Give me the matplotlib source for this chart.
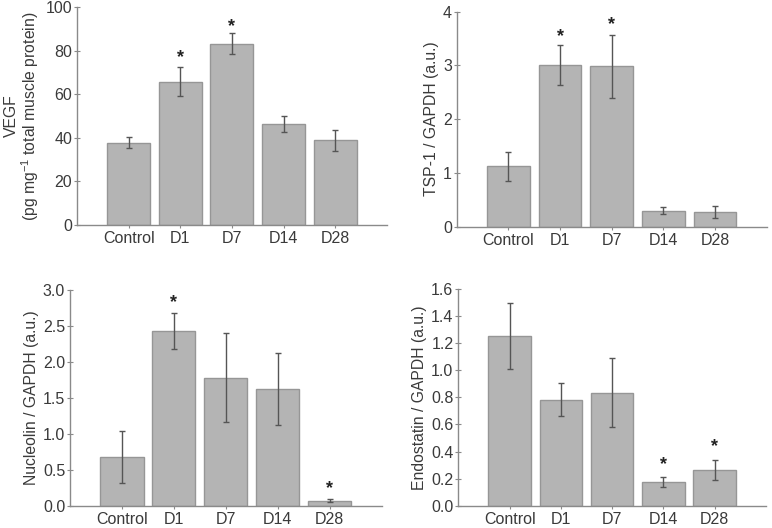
import numpy as np
import matplotlib
matplotlib.use('Agg')
import matplotlib.pyplot as plt

matplotlib.rcParams['font.family'] = ['Liberation Sans', 'DejaVu Sans']
matplotlib.rcParams['font.size'] = 11

groups = ['Control', 'D1', 'D7', 'D14', 'D28']

# VEGF (pg/mg total muscle protein)
vegf = [37.8, 65.7, 83.2, 46.2, 38.9]
vegf_err = [2.5, 6.7, 4.7, 3.7, 4.8]
vegf_star = [None, 77, 91, None, None]

# TSP-1 / GAPDH
tsp = [1.12, 3.0, 2.98, 0.30, 0.27]
tsp_err = [0.27, 0.37, 0.58, 0.06, 0.11]
tsp_star = [None, 3.53, 3.75, None, None]

# Nucleolin / GAPDH
nuc = [0.68, 2.43, 1.78, 1.62, 0.07]
nuc_err = [0.36, 0.245, 0.62, 0.50, 0.015]
nuc_star = [None, 2.82, None, None, 0.23]

# Endostatin / GAPDH
endo = [1.257, 0.784, 0.835, 0.175, 0.263]
endo_err = [0.245, 0.12, 0.255, 0.035, 0.075]
endo_star = [None, None, None, 0.30, 0.44]

panels = [
    (vegf, vegf_err, vegf_star,
     'VEGF\n(pg mg$^{\\mathregular{-1}}$ total muscle protein)',
     np.arange(0, 101, 20), '%d', [0.0997, 0.574, 0.4013, 0.4127]),
    (tsp, tsp_err, tsp_star, 'TSP-1 / GAPDH (a.u.)',
     np.arange(0, 5, 1), '%d', [0.5916, 0.5707, 0.4015, 0.4073]),
    (nuc, nuc_err, nuc_star, 'Nucleolin / GAPDH (a.u.)',
     np.arange(0, 3.01, 0.5), '%.1f', [0.0907, 0.0425, 0.4037, 0.4083]),
    (endo, endo_err, endo_star, 'Endostatin / GAPDH (a.u.)',
     np.arange(0, 1.61, 0.2), '%.1f', [0.5937, 0.0425, 0.3983, 0.4095]),
]

text_col = '#3a3a3a'
axis_col = '#8a8a8a'

fig = plt.figure(figsize=(7.72, 5.28), dpi=100)

for vals, errs, stars, label, yt, fmt, pos in panels:
    ax = fig.add_axes(pos)
    x = np.arange(len(groups))
    ax.bar(x, vals, width=0.83, color='#b4b4b4', edgecolor='#969696',
           linewidth=1.0, zorder=2)
    ax.errorbar(x, vals, yerr=errs, fmt='none', ecolor='#555555',
                elinewidth=1.0, capsize=2.5, capthick=1.0, zorder=3)
    for xi, s in zip(x, stars):
        if s is not None:
            ax.text(xi, s, '*', ha='center', va='center', fontsize=13,
                    fontweight='bold', color='#222222', zorder=4)
    ax.set_xlim(-1, 5)
    ax.set_ylim(0, yt[-1])
    ax.set_yticks(yt)
    ax.set_yticklabels([fmt % v for v in yt])
    ax.set_xticks(x)
    ax.set_xticklabels(groups)
    ax.spines['top'].set_visible(False)
    ax.spines['right'].set_visible(False)
    for sp in ('left', 'bottom'):
        ax.spines[sp].set_color(axis_col)
        ax.spines[sp].set_linewidth(1.0)
    ax.tick_params(axis='both', direction='inout', length=4, width=0.8,
                   color=axis_col, labelcolor=text_col, labelsize=11.5)
    ax.tick_params(axis='x', pad=2.5)
    ax.tick_params(axis='y', pad=1.5)
    ax.set_ylabel(label, color=text_col, fontsize=11.3, linespacing=1.05,
                  labelpad=3)

fig.savefig('out.png', dpi=100)
